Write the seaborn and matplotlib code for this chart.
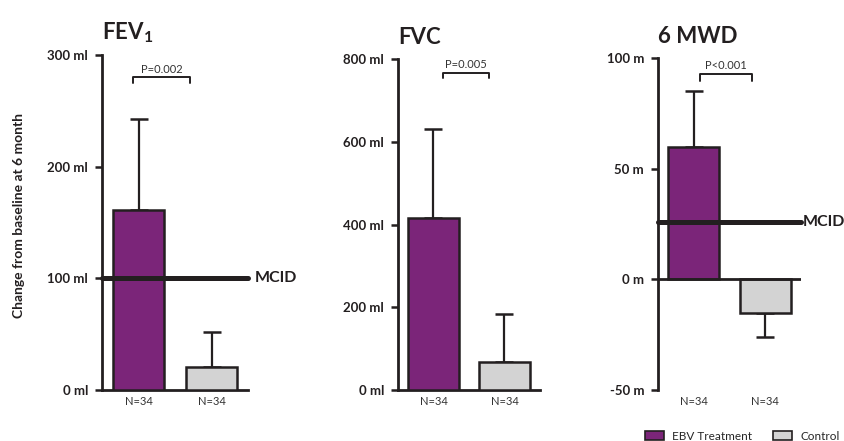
import matplotlib
matplotlib.use("Agg")
import matplotlib.pyplot as plt
import seaborn as sns
import pandas as pd
from matplotlib.patches import Patch

# ---------------- data ----------------
groups = ["EBV Treatment", "Control"]
n_labels = ["N=34", "N=34"]

fev1_mean = [161, 21]
fev1_sd = [82, 31]
fvc_mean = [415, 68]
fvc_sd = [215, 116]
mwd_mean = [60, -15]
mwd_sd = [25, 11]

fev1_ticks = [0, 100, 200, 300]
fev1_ticklabels = ["0 ml", "100 ml", "200 ml", "300 ml"]
fvc_ticks = [0, 200, 400, 600, 800]
fvc_ticklabels = ["0 ml", "200 ml", "400 ml", "600 ml", "800 ml"]
mwd_ticks = [-50, 0, 50, 100]
mwd_ticklabels = ["-50 m", "0 m", "50 m", "100 m"]

fev1_mcid = 100
mwd_mcid = 26

p_values = ["P=0.002", "P=0.005", "P<0.001"]
titles = [r"FEV$_\mathbf{1}$", "FVC", "6 MWD"]
ylabel = "Change from baseline at 6 month"

# ---------------- style ----------------
sns.set_theme(style="ticks")
plt.rcParams["font.family"] = ["Lato", "DejaVu Sans"]
plt.rcParams["mathtext.fontset"] = "custom"
plt.rcParams["mathtext.rm"] = "Lato"
plt.rcParams["mathtext.bf"] = "Lato:bold"

dark = "#231F20"
purple = "#7B2579"
grey = "#D3D3D3"
colors = {groups[0]: purple, groups[1]: grey}

W, H = 845, 441
fig = plt.figure(figsize=(W / 100, H / 100), dpi=100)

def px_axes(x0, x1, y0, y1):
    return [x0 / W, 1 - y1 / H, (x1 - x0) / W, (y1 - y0) / H]

panels = [
    dict(pos=px_axes(102, 248, 55, 390), mean=fev1_mean, sd=fev1_sd,
         ticks=fev1_ticks, labels=fev1_ticklabels, ylim=(0, 300),
         mcid=fev1_mcid, mcid_x=1.045, p=p_values[0], title=titles[0],
         br=(-0.07, 0.70, 280, 275)),
    dict(pos=px_axes(398, 540, 59, 390), mean=fvc_mean, sd=fvc_sd,
         ticks=fvc_ticks, labels=fvc_ticklabels, ylim=(0, 800),
         mcid=None, mcid_x=None, p=p_values[1], title=titles[1],
         br=(0.13, 0.78, 766, 755)),
    dict(pos=px_axes(658, 801, 58, 390), mean=mwd_mean, sd=mwd_sd,
         ticks=mwd_ticks, labels=mwd_ticklabels, ylim=(-50, 100),
         mcid=mwd_mcid, mcid_x=1.015, p=p_values[2], title=titles[2],
         br=(0.09, 0.81, 92.7, 89.5)),
]

for i, pn in enumerate(panels):
    ax = fig.add_axes(pn["pos"])
    df = pd.DataFrame({"group": groups, "value": pn["mean"]})
    sns.barplot(data=df, x="group", y="value", hue="group", palette=colors,
                saturation=1, width=0.71, edgecolor=dark, linewidth=1.8,
                errorbar=None, legend=False, ax=ax, zorder=3)
    bars = sorted(ax.patches, key=lambda p: p.get_x())
    centers = [b.get_x() + b.get_width() / 2 for b in bars]
    lower = [s if m < 0 else 0 for m, s in zip(pn["mean"], pn["sd"])]
    upper = [s if m >= 0 else 0 for m, s in zip(pn["mean"], pn["sd"])]
    ax.errorbar(centers, pn["mean"], yerr=[lower, upper], fmt="none",
                ecolor=dark, elinewidth=1.6, capsize=6.5, capthick=1.8,
                zorder=2)

    ax.set_xlim(-0.5, 1.5)
    ax.set_ylim(*pn["ylim"])
    ax.set_yticks(pn["ticks"])
    ax.set_yticklabels(pn["labels"], fontsize=9.5, fontweight="bold", color=dark)
    ax.set_xticks(centers)
    ax.set_xticklabels(n_labels, fontsize=8, color="#333333")
    ax.tick_params(axis="y", length=5, width=1.8, color=dark, pad=5)
    ax.tick_params(axis="x", length=0, pad=4)
    ax.set_xlabel("")
    ax.set_ylabel("")
    for s in ["top", "right"]:
        ax.spines[s].set_visible(False)
    ax.spines["left"].set_linewidth(2.0)
    ax.spines["left"].set_color(dark)
    if pn["ylim"][0] < 0:
        ax.spines["bottom"].set_visible(False)
        ax.axhline(0, color=dark, lw=2.0, zorder=4)
    else:
        ax.spines["bottom"].set_linewidth(2.0)
        ax.spines["bottom"].set_color(dark)

    if pn["mcid"] is not None:
        ax.axhline(pn["mcid"], color=dark, lw=3.6, zorder=5, clip_on=False)
        ax.text(pn["mcid_x"], pn["mcid"], "MCID", transform=ax.get_yaxis_transform(),
                ha="left", va="center", fontsize=11.5, fontweight="bold", color=dark)

    x0, x1, ytop, ybot = pn["br"]
    ax.plot([x0, x0, x1, x1], [ybot, ytop, ytop, ybot], color=dark, lw=1.4,
            clip_on=False, zorder=6)
    ax.annotate(pn["p"], xy=((x0 + x1) / 2, ytop), xytext=(0, 2),
                textcoords="offset points", ha="center", va="bottom",
                fontsize=8, color="#333333", annotation_clip=False)

    ax.set_title(pn["title"], loc="left", fontsize=16, fontweight="bold",
                 color=dark, pad=11)

    if i == 0:
        ax.set_ylabel(ylabel, fontsize=10, fontweight="bold", color=dark)
        ax.yaxis.set_label_coords(-0.53, 0.52)

handles = [Patch(facecolor=purple, edgecolor=dark, linewidth=1.2),
           Patch(facecolor=grey, edgecolor=dark, linewidth=1.2)]
fig.legend(handles, groups, loc="center left", bbox_to_anchor=(645 / W, 5 / H),
           ncol=2, frameon=False, fontsize=8.5, handlelength=1.6, handleheight=0.75,
           handletextpad=0.7, columnspacing=1.8, borderpad=0, borderaxespad=0)

fig.savefig("out.png", dpi=100, facecolor="white")
